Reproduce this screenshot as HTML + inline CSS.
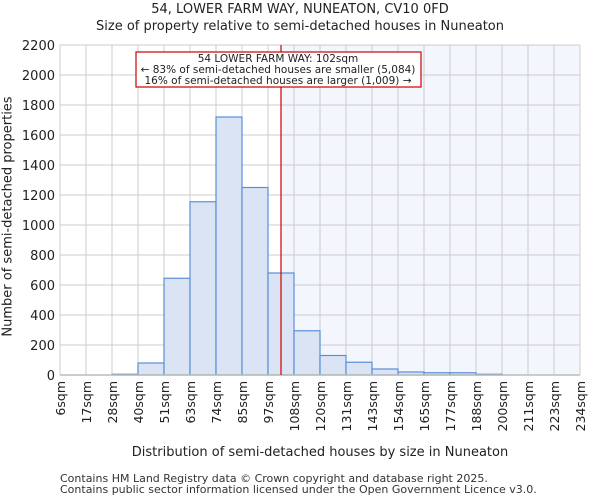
<!DOCTYPE html>
<html><head><meta charset="utf-8"><style>
body{margin:0;background:#fff;font-family:"DejaVu Sans","Liberation Sans",sans-serif}
svg text{font-family:"DejaVu Sans","Liberation Sans",sans-serif;fill:#222}
</style></head><body>
<svg id="c" width="600" height="500"></svg>
<script>
const binEdges=[6,17,28,40,51,63,74,85,97,108,120,131,143,154,165,177,188,200,211,223,234];
const tickLabels=["6sqm","17sqm","28sqm","40sqm","51sqm","63sqm","74sqm","85sqm","97sqm","108sqm","120sqm","131sqm","143sqm","154sqm","165sqm","177sqm","188sqm","200sqm","211sqm","223sqm","234sqm"];
const counts=[0,0,5,80,645,1155,1720,1250,680,295,130,85,40,20,15,15,5,0,0,0];
const yTicks=[0,200,400,600,800,1000,1200,1400,1600,1800,2000,2200];
const markerBin=8.5;
const L=60,R=580,T=45,B=375,yMax=2200;
const n=binEdges.length-1;
const xi=i=>L+(R-L)*i/n;
const y=v=>B-(B-T)*v/yMax;
const s=document.getElementById('c');const NS='http://www.w3.org/2000/svg';
function mk(t,a,p){const e=document.createElementNS(NS,t);for(const k in a)e.setAttribute(k,a[k]);(p||s).appendChild(e);return e;}
const mx=xi(markerBin);
let e=mk('rect',{x:mx,y:T,width:R-mx,height:B-T,fill:'#f3f6fd'});

yTicks.forEach(v=>{const l=mk('line',{x1:L,x2:R,y1:y(v),y2:y(v),stroke:'#cccccc'});

const t=mk('text',{x:L-5,y:y(v)+5,'text-anchor':'end','font-size':13});t.textContent=v;
});
tickLabels.forEach((lab,i)=>{const x=xi(i);const l=mk('line',{x1:x,x2:x,y1:T,y2:B,stroke:'#cccccc'});

const t=mk('text',{x:x+5,y:B+6,'text-anchor':'end','font-size':12.5,transform:`rotate(-90 ${x+5} ${B+6})`});t.textContent=lab;
});
counts.forEach((c,i)=>{if(c<=0)return;const r=mk('rect',{x:xi(i),y:y(c),width:xi(i+1)-xi(i),height:B-y(c),fill:'#dae4f4',stroke:'#5a8fd8','stroke-width':1.2});
});
const ax=mk('line',{x1:L,x2:R,y1:B,y2:B,stroke:'#bbbbbb','stroke-width':1.5});

const ml=mk('line',{x1:mx,x2:mx,y1:T,y2:B,stroke:'#cc0000','stroke-width':1.2});

const bx=mk('rect',{x:136,y:52,width:285,height:35,fill:'#fff',stroke:'#cc0000','stroke-width':1.2});

["54 LOWER FARM WAY: 102sqm","← 83% of semi-detached houses are smaller (5,084)","16% of semi-detached houses are larger (1,009) →"].forEach((tx,k)=>{
const t=mk('text',{x:278,y:62+k*11,'text-anchor':'middle','font-size':10.5});t.textContent=tx;
});
</script>
<div style="position:absolute;left:0;top:0;width:600px">
<div style="position:absolute;top:1px;width:600px;text-align:center;font-size:13px;line-height:17px;color:#222">54, LOWER FARM WAY, NUNEATON, CV10 0FD<br>Size of property relative to semi-detached houses in Nuneaton</div>
<div style="position:absolute;top:445px;left:60px;width:520px;text-align:center;font-size:13px;color:#222">Distribution of semi-detached houses by size in Nuneaton</div>
<div style="position:absolute;top:209px;left:-122px;width:260px;white-space:nowrap;text-align:center;font-size:13px;color:#222;transform:rotate(-90deg)">Number of semi-detached properties</div>
<div style="position:absolute;top:473px;left:60px;font-size:11px;line-height:11px;color:#333">Contains HM Land Registry data © Crown copyright and database right 2025.<br>Contains public sector information licensed under the Open Government Licence v3.0.</div>
</div>
</body></html>
